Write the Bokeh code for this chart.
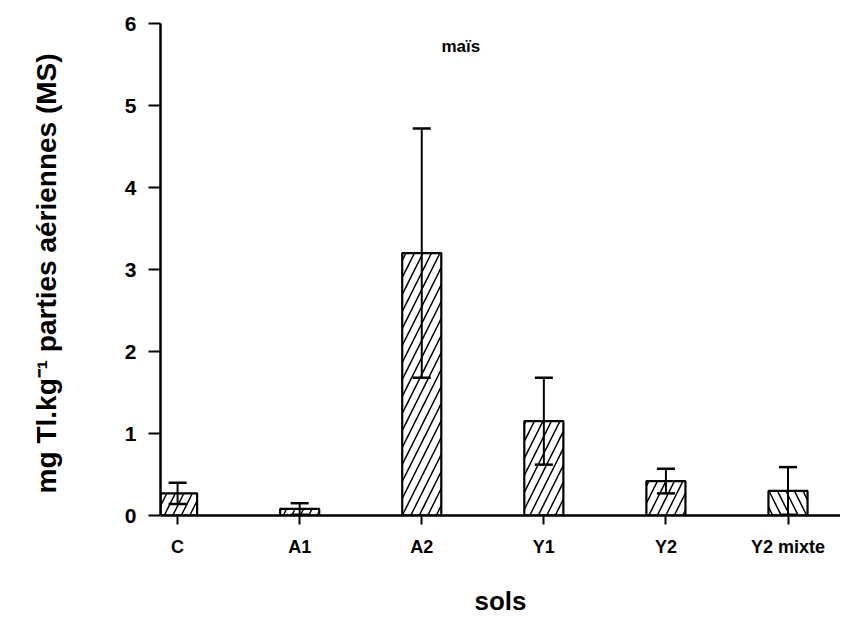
from bokeh.plotting import figure
from bokeh.models import ColumnDataSource, Whisker, TeeHead, FixedTicker, Range1d, Label
from bokeh.embed import file_html
from bokeh.resources import INLINE

# data
categories = ["C", "A1", "A2", "Y1", "Y2", "Y2 mixte"]
means = [0.27, 0.08, 3.2, 1.15, 0.42, 0.30]
errors = [0.13, 0.07, 1.52, 0.53, 0.15, 0.29]
hatches = ["/", "/", "/", "/", "/", "\\"]
y_ticks = [0, 1, 2, 3, 4, 5, 6]

xs = list(range(len(categories)))
src = ColumnDataSource(dict(
    x=xs, top=means, hatch=hatches,
    upper=[m + e for m, e in zip(means, errors)],
    lower=[m - e for m, e in zip(means, errors)],
))

FONT = "Liberation Sans"

p = figure(width=840, height=618, output_backend="svg", toolbar_location=None,
           x_range=Range1d(-0.14, 5.43), y_range=Range1d(0, 6),
           min_border_left=160, min_border_top=23, min_border_bottom=103,
           min_border_right=0)
p.outline_line_color = None
p.xgrid.visible = False
p.ygrid.visible = False
p.background_fill_color = "white"

p.vbar(x="x", top="top", bottom=0, width=0.32, source=src,
       fill_color="white", line_color="black", line_width=2.2,
       hatch_pattern="hatch", hatch_color="black", hatch_weight=1.5,
       hatch_scale=17)

w = Whisker(base="x", upper="upper", lower="lower", source=src,
            line_color="black", line_width=2, level="overlay",
            upper_head=TeeHead(size=18, line_width=2.5, line_color="black"),
            lower_head=TeeHead(size=18, line_width=2.5, line_color="black"))
p.add_layout(w)

# axes
p.yaxis.ticker = FixedTicker(ticks=y_ticks)
p.yaxis.minor_tick_line_color = None
p.yaxis.major_tick_out = 12
p.yaxis.major_tick_in = 0
p.yaxis.major_tick_line_width = 2
p.yaxis.axis_line_width = 2.5
p.yaxis.major_label_text_font = FONT
p.yaxis.major_label_text_font_style = "bold"
p.yaxis.major_label_text_font_size = "21px"
p.yaxis.major_label_text_color = "black"
p.yaxis.major_label_standoff = 12
p.yaxis.axis_label = "mg Tl.kg\u207b\u00b9  parties aériennes (MS)"
p.yaxis.axis_label_text_font = FONT
p.yaxis.axis_label_text_font_style = "bold"
p.yaxis.axis_label_text_font_size = "28px"
p.yaxis.axis_label_text_color = "black"
p.yaxis.axis_label_standoff = 60

p.xaxis.ticker = FixedTicker(ticks=xs)
p.xaxis.major_label_overrides = {i: c for i, c in zip(xs, categories)}
p.xaxis.minor_tick_line_color = None
p.xaxis.major_tick_out = 9
p.xaxis.major_tick_in = 0
p.xaxis.major_tick_line_width = 2
p.xaxis.axis_line_width = 2.5
p.xaxis.major_label_text_font = FONT
p.xaxis.major_label_text_font_style = "bold"
p.xaxis.major_label_text_font_size = "18px"
p.xaxis.major_label_text_color = "black"
p.xaxis.major_label_standoff = 12
p.xaxis.axis_label = "sols"
p.xaxis.axis_label_text_font = FONT
p.xaxis.axis_label_text_font_style = "bold"
p.xaxis.axis_label_text_font_size = "26px"
p.xaxis.axis_label_text_color = "black"
p.xaxis.axis_label_standoff = 26

p.add_layout(Label(x=2.32, y=5.72, text="maïs", text_font=FONT,
                   text_font_style="bold", text_font_size="17px",
                   text_color="black",
                   text_align="center", text_baseline="middle"))

open("out.html", "w").write(file_html(p, INLINE))
